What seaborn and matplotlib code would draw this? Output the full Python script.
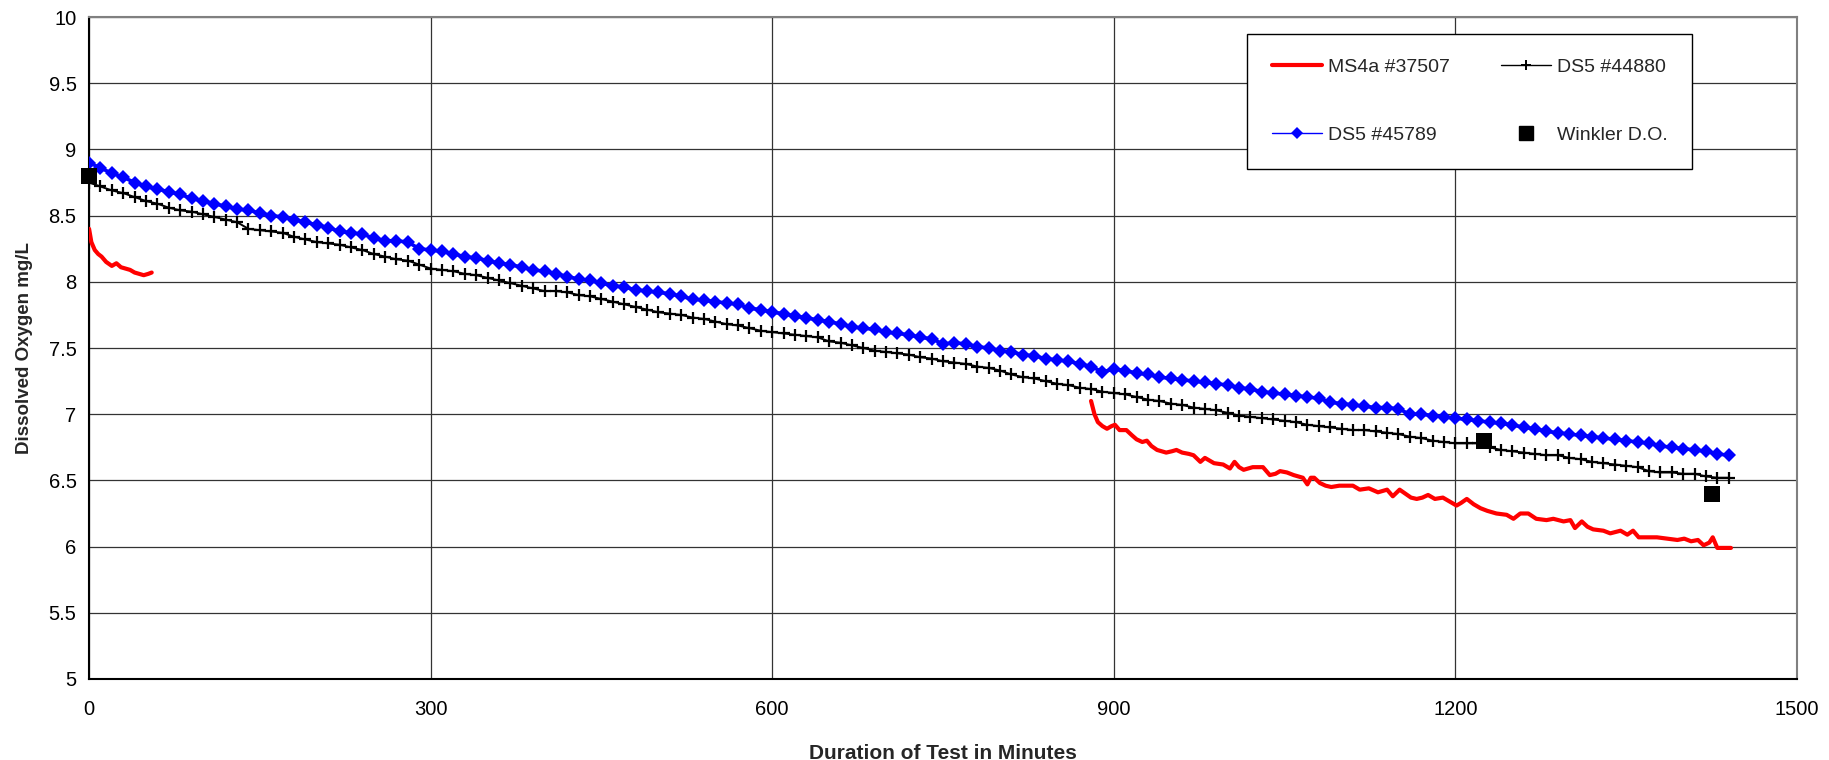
import numpy as np
import pandas as pd
import matplotlib
matplotlib.use("Agg")
import matplotlib.pyplot as plt
from matplotlib.lines import Line2D
from matplotlib.ticker import FormatStrFormatter
import seaborn as sns

# Logged sample times (minutes) for the two optical DO sondes
sonde_minutes = list(range(0, 1441, 10))

ds5_45789 = [
    8.90, 8.86, 8.82, 8.79, 8.75, 8.72, 8.70, 8.68, 8.66, 8.63,
    8.61, 8.59, 8.57, 8.55, 8.54, 8.52, 8.50, 8.49, 8.47, 8.45,
    8.43, 8.41, 8.38, 8.37, 8.36, 8.33, 8.31, 8.31, 8.30, 8.25,
    8.24, 8.23, 8.21, 8.19, 8.18, 8.16, 8.14, 8.13, 8.11, 8.09,
    8.08, 8.06, 8.04, 8.02, 8.01, 7.99, 7.97, 7.96, 7.94, 7.93,
    7.92, 7.91, 7.89, 7.87, 7.86, 7.85, 7.84, 7.83, 7.80, 7.79,
    7.77, 7.76, 7.74, 7.73, 7.71, 7.70, 7.68, 7.66, 7.65, 7.64,
    7.62, 7.61, 7.60, 7.58, 7.57, 7.53, 7.54, 7.53, 7.51, 7.50,
    7.48, 7.47, 7.45, 7.44, 7.42, 7.41, 7.40, 7.38, 7.36, 7.32,
    7.34, 7.33, 7.31, 7.30, 7.28, 7.27, 7.26, 7.25, 7.24, 7.23,
    7.22, 7.20, 7.19, 7.17, 7.16, 7.15, 7.14, 7.13, 7.12, 7.09,
    7.08, 7.07, 7.06, 7.05, 7.05, 7.04, 7.00, 7.00, 6.99, 6.98,
    6.97, 6.96, 6.95, 6.94, 6.93, 6.92, 6.90, 6.89, 6.87, 6.86,
    6.85, 6.84, 6.83, 6.82, 6.81, 6.80, 6.79, 6.78, 6.76, 6.75,
    6.74, 6.73, 6.72, 6.70, 6.69,
]

ds5_44880 = [
    8.75, 8.72, 8.69, 8.67, 8.64, 8.61, 8.59, 8.56, 8.54, 8.53,
    8.51, 8.49, 8.47, 8.45, 8.40, 8.39, 8.38, 8.37, 8.34, 8.32,
    8.30, 8.29, 8.28, 8.26, 8.24, 8.21, 8.19, 8.17, 8.16, 8.13,
    8.10, 8.09, 8.08, 8.06, 8.05, 8.03, 8.01, 7.99, 7.97, 7.95,
    7.93, 7.93, 7.92, 7.90, 7.89, 7.87, 7.85, 7.83, 7.81, 7.79,
    7.77, 7.76, 7.75, 7.73, 7.72, 7.70, 7.68, 7.67, 7.65, 7.63,
    7.62, 7.61, 7.60, 7.59, 7.58, 7.55, 7.54, 7.52, 7.50, 7.48,
    7.47, 7.46, 7.45, 7.43, 7.42, 7.40, 7.39, 7.38, 7.36, 7.35,
    7.33, 7.30, 7.28, 7.27, 7.25, 7.23, 7.22, 7.20, 7.19, 7.17,
    7.16, 7.15, 7.13, 7.11, 7.10, 7.08, 7.07, 7.05, 7.04, 7.03,
    7.01, 6.99, 6.98, 6.97, 6.96, 6.95, 6.94, 6.92, 6.91, 6.90,
    6.89, 6.88, 6.88, 6.87, 6.86, 6.85, 6.83, 6.82, 6.80, 6.79,
    6.78, 6.78, 6.78, 6.75, 6.73, 6.72, 6.71, 6.70, 6.69, 6.69,
    6.67, 6.66, 6.64, 6.63, 6.62, 6.61, 6.60, 6.57, 6.56, 6.56,
    6.55, 6.55, 6.53, 6.52, 6.52,
]

# MS4a #37507: first deployment block
ms4a_start_minutes = [0, 2, 5, 8, 11, 15, 20, 24, 28, 32, 36, 40, 44, 48, 52, 55]
ms4a_start_do = [8.40, 8.30, 8.24, 8.21, 8.19, 8.15, 8.12, 8.14, 8.11, 8.10,
                 8.09, 8.07, 8.06, 8.05, 8.06, 8.07]

# MS4a #37507: second deployment block
ms4a_end_minutes = [
    880, 883, 886, 890, 894, 898, 901, 905, 911, 916,
    920, 925, 929, 933, 938, 946, 951, 955, 960, 966,
    970, 976, 980, 984, 988, 996, 1002, 1006, 1010, 1014,
    1022, 1031, 1037, 1042, 1046, 1052, 1058, 1066, 1070, 1073,
    1076, 1081, 1086, 1091, 1098, 1105, 1110, 1116, 1124, 1132,
    1140, 1145, 1151, 1156, 1161, 1166, 1171, 1176, 1182, 1189,
    1195, 1201, 1205, 1210, 1216, 1222, 1228, 1236, 1245, 1251,
    1257, 1264, 1271, 1280, 1286, 1295, 1301, 1305, 1311, 1316,
    1321, 1330, 1336, 1345, 1351, 1356, 1361, 1370, 1377, 1386,
    1395, 1401, 1407, 1413, 1418, 1423, 1426, 1430, 1442,
]
ms4a_end_do = [
    7.10, 7.00, 6.94, 6.91, 6.89, 6.91, 6.92, 6.88, 6.88, 6.84,
    6.81, 6.79, 6.80, 6.76, 6.73, 6.71, 6.72, 6.73, 6.71, 6.70,
    6.69, 6.64, 6.67, 6.65, 6.63, 6.62, 6.59, 6.64, 6.60, 6.58,
    6.60, 6.60, 6.54, 6.55, 6.57, 6.56, 6.54, 6.52, 6.47, 6.52,
    6.52, 6.48, 6.46, 6.45, 6.46, 6.46, 6.46, 6.43, 6.44, 6.41,
    6.43, 6.38, 6.43, 6.40, 6.37, 6.36, 6.37, 6.39, 6.36, 6.37,
    6.34, 6.31, 6.33, 6.36, 6.32, 6.29, 6.27, 6.25, 6.24, 6.21,
    6.25, 6.25, 6.21, 6.20, 6.21, 6.19, 6.20, 6.14, 6.19, 6.15,
    6.13, 6.12, 6.10, 6.12, 6.09, 6.12, 6.07, 6.07, 6.07, 6.06,
    6.05, 6.06, 6.04, 6.05, 6.01, 6.03, 6.07, 5.99, 5.99,
]

# Winkler titration checks
winkler_minutes = [0, 1225, 1425]
winkler_do = [8.80, 6.80, 6.40]

x_ticks = [0, 300, 600, 900, 1200, 1500]
y_ticks = [5, 5.5, 6, 6.5, 7, 7.5, 8, 8.5, 9, 9.5, 10]

sns.set_theme(style="white")
plt.rcParams["font.family"] = ["Liberation Sans", "DejaVu Sans"]

fig = plt.figure(figsize=(18.29, 7.6), dpi=100)
ax = fig.add_axes([0.0487, 0.1066, 0.9338, 0.871])

blue_df = pd.DataFrame({"minutes": sonde_minutes, "do": ds5_45789})
black_df = pd.DataFrame({"minutes": sonde_minutes, "do": ds5_44880})
red1_df = pd.DataFrame({"minutes": ms4a_start_minutes, "do": ms4a_start_do})
red2_df = pd.DataFrame({"minutes": ms4a_end_minutes, "do": ms4a_end_do})
wink_df = pd.DataFrame({"minutes": winkler_minutes, "do": winkler_do})

black_style = dict(color="black", linewidth=1.0, marker="+", markersize=7.5,
                   markeredgewidth=1.4, markeredgecolor="black")
blue_style = dict(color="#0000FF", linewidth=1.0, marker="D", markersize=6.5,
                  markeredgewidth=0, markerfacecolor="#0000FF",
                  markeredgecolor="#0000FF")
red_style = dict(color="#FF0000", linewidth=3.0)

# Series drawn a little heavier in the plot area than in the key
plot_black = dict(black_style, linewidth=1.4, markersize=8, markeredgewidth=1.6)
plot_blue = dict(blue_style, linewidth=2.6, markersize=7.5)

sns.lineplot(data=black_df, x="minutes", y="do", ax=ax, zorder=3, **plot_black)
sns.lineplot(data=blue_df, x="minutes", y="do", ax=ax, zorder=4, **plot_blue)
for seg in (red1_df, red2_df):
    sns.lineplot(data=seg, x="minutes", y="do", ax=ax, zorder=5, **red_style)
sns.scatterplot(data=wink_df, x="minutes", y="do", ax=ax, color="black",
                marker="s", s=125, linewidth=0, zorder=6, clip_on=False)

ax.set_xlim(0, 1500)
ax.set_ylim(5, 10)
ax.set_xticks(x_ticks)
ax.set_yticks(y_ticks)
ax.yaxis.set_major_formatter(FormatStrFormatter("%g"))
ax.grid(True, color="#333333", linewidth=0.9)
ax.set_axisbelow(True)

for side in ("top", "right"):
    ax.spines[side].set_color("#808080")
    ax.spines[side].set_linewidth(1.5)
for side in ("left", "bottom"):
    ax.spines[side].set_color("black")
    ax.spines[side].set_linewidth(1.5)

ax.tick_params(axis="both", which="major", direction="out", length=5,
               width=1, color="black", labelsize=14.5, labelcolor="black")
ax.tick_params(axis="y", pad=4)
ax.tick_params(axis="x", pad=10)

ax.set_xlabel("Duration of Test in Minutes", fontsize=15,
              fontweight="bold", labelpad=18)
ax.set_ylabel("Dissolved Oxygen mg/L", fontsize=13.5, fontweight="bold",
              labelpad=11)

handles = [
    Line2D([], [], **red_style),
    Line2D([], [], **blue_style),
    Line2D([], [], **black_style),
    Line2D([], [], color="black", linestyle="none", marker="s",
           markersize=10),
]
labels = ["MS4a #37507", "DS5 #45789", "DS5 #44880", "Winkler D.O."]
leg = fig.legend(handles, labels, ncol=2, loc="upper left",
                 bbox_to_anchor=(0.682, 0.955), frameon=True, fancybox=False,
                 shadow=False, fontsize=14, labelspacing=2.6,
                 borderpad=1.25, handlelength=2.6, handletextpad=0.3,
                 columnspacing=2.6, borderaxespad=0)
leg.get_frame().set_edgecolor("black")
leg.get_frame().set_linewidth(1.0)
leg.get_frame().set_facecolor("white")
leg.get_frame().set_alpha(1)

fig.savefig("out.png", dpi=100)
